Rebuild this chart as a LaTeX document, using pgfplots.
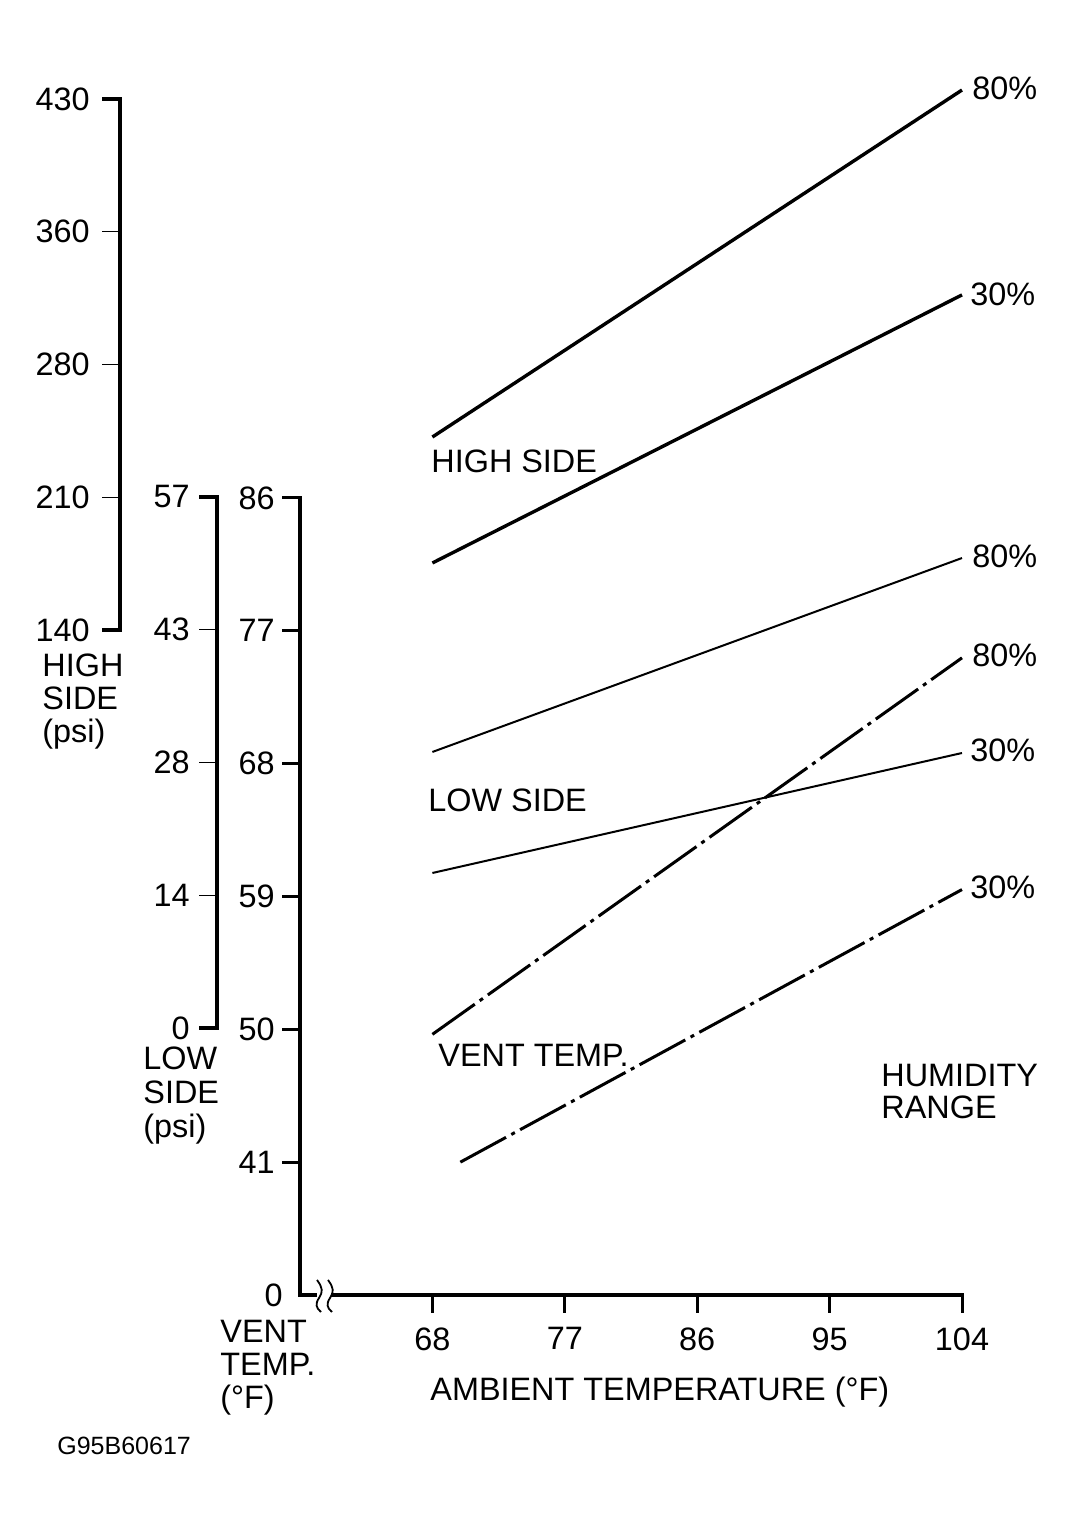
\documentclass[border=0pt]{standalone}
\usepackage{fontspec}
\setmainfont{Liberation Sans}
\usepackage{pgfplots}
\pgfplotsset{compat=1.18}
\begin{document}
\begin{tikzpicture}[font=\fontsize{16.2}{18}\selectfont]
\useasboundingbox (0,0) rectangle (537pt,764pt);
\pgfplotsset{
  base/.style={
    scale only axis, clip=false,
    anchor=south west,
    major tick length=9pt,
    /pgf/number format/assume math mode=true,
    tick label style={font=\fontsize{16.2}{18}\selectfont, inner sep=0pt},
    yticklabel style={anchor=east},
  },
  noarrows/.style={
    tick align=outside,
    axis line style={-, line width=1.6pt, line cap=rect, black},
    x axis line style={-}, y axis line style={-},
    every outer x axis line/.append style={-},
    every outer y axis line/.append style={-},
    every inner x axis line/.append style={-},
    every inner y axis line/.append style={-},
  }
}
% ---------- HIGH SIDE (psi) ----------
\begin{axis}[base, at={(60pt,449pt)}, width=421pt, height=265.5pt,
  xmin=46.764, xmax=104, ymin=140, ymax=430,
  axis x line=none, axis y line=left, noarrows,
  ytick={212.5,285,357.5}, yticklabels={210,280,360},
  yticklabel style={xshift=-6pt},
  major tick style={line width=0.6pt, black},
  extra y ticks={140,430}, extra y tick labels={140,430},
  extra y tick style={major tick style={line width=1.6pt, black}},
]
\addplot[line width=1.7pt] coordinates {(68,245.4) (104,434.9)};
\addplot[line width=1.7pt] coordinates {(68,176.6) (104,323.0)};
\end{axis}
% ---------- LOW SIDE (psi) ----------
\begin{axis}[base, at={(108.5pt,250pt)}, width=372.5pt, height=265.5pt,
  xmin=53.358, xmax=104, ymin=0, ymax=57,
  axis x line=none, axis y line=left, noarrows,
  ytick={14.25,28.5,42.75}, yticklabels={14,28,43},
  yticklabel style={xshift=-4.5pt},
  major tick style={line width=0.6pt, black},
  extra y ticks={0,57}, extra y tick labels={0,57},
  extra y tick style={major tick style={line width=1.6pt, black}},
]
\addplot[line width=1pt] coordinates {(68,29.63) (104,50.45)};
\addplot[line width=1pt] coordinates {(68,16.64) (104,29.52)};
\end{axis}
% ---------- VENT TEMP (F) ----------
\begin{axis}[base, at={(150pt,116.5pt)}, width=331pt, height=398.5pt,
  xmin=59, xmax=104, ymin=32, ymax=86,
  axis x line=bottom, axis y line=left, noarrows,
  xtick={68,77,86,95,104},
  ytick={41,50,59,68,77,86},
  yticklabel style={xshift=-3.5pt},
  major tick style={line width=1.5pt, black},
  extra y ticks={32}, extra y tick labels={0},
  extra y tick style={major tick length=0pt, yticklabel style={xshift=-5pt}},
  xticklabel style={anchor=north, yshift=-7pt},
]
\addplot[line width=1.5pt, dash pattern=on 26pt off 3pt on 2pt off 3pt]
  coordinates {(68,49.66) (104,75.17)};
\addplot[line width=1.5pt, dash pattern=on 26pt off 3pt on 2pt off 3pt]
  coordinates {(69.9,41.0) (104,59.47)};
\end{axis}
% axis break
\fill[white] (158.5pt,114pt) rectangle (165.5pt,119pt);
\draw[line width=0.9pt] (158.5pt,124pt) .. controls (161.5pt,120pt) and (161.5pt,118pt) .. (159.5pt,115pt) .. controls (157.5pt,112pt) and (158pt,110pt) .. (160.5pt,108pt);
\draw[line width=0.9pt] (164pt,124pt) .. controls (167pt,120pt) and (167pt,118pt) .. (165pt,115pt) .. controls (163pt,112pt) and (163.5pt,110pt) .. (166pt,108pt);
% texts
\begin{scope}[every node/.style={inner sep=0pt, anchor=base west}]
\node at (486pt,714.25pt) {80\%};
\node at (485pt,611.25pt) {30\%};
\node at (486pt,480.25pt) {80\%};
\node at (486pt,430.75pt) {80\%};
\node at (485pt,383.25pt) {30\%};
\node at (485pt,314.75pt) {30\%};
\node at (215.5pt,527.75pt) {HIGH SIDE};
\node at (214pt,358.25pt) {LOW SIDE};
\node at (219pt,230.75pt) {VENT TEMP.};
\node at (440.5pt,220.75pt) {HUMIDITY};
\node at (440.5pt,204.75pt) {RANGE};
\node at (21pt,425.75pt) {HIGH};
\node at (21pt,409.25pt) {SIDE};
\node at (21pt,392.75pt) {(psi)};
\node at (71.5pt,229.25pt) {LOW};
\node at (71.5pt,212.25pt) {SIDE};
\node at (71.5pt,195.25pt) {(psi)};
\node at (110pt,92.75pt) {VENT};
\node at (110pt,76.25pt) {TEMP.};
\node at (110pt,59.75pt) {(°F)};
\node at (215pt,63.75pt) {AMBIENT TEMPERATURE (°F)};
\node[font=\fontsize{12.5}{15}\selectfont] at (28.5pt,36.5pt) {G95B60617};
\end{scope}
\end{tikzpicture}
\end{document}
